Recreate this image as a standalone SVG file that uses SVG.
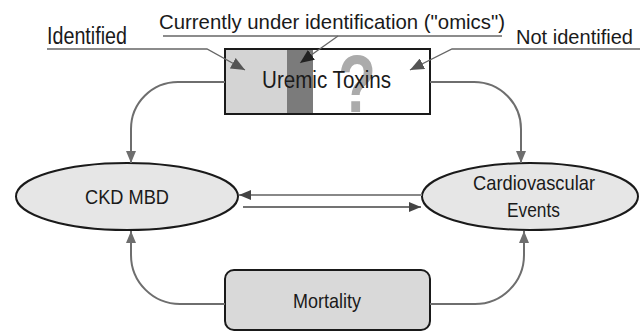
<svg xmlns="http://www.w3.org/2000/svg" width="640" height="333" viewBox="0 0 640 333">
<style>
text{font-family:"Liberation Sans Narrow","Liberation Sans",Arial,sans-serif;fill:#1a1a1a}
.lbl{font-size:23px}
.nd{font-size:21px}
.conn{fill:none;stroke:#6e6e6e;stroke-width:2}
.call{fill:none;stroke:#666;stroke-width:1.3}
.node{fill:#e6e6e6;stroke:#1a1a1a;stroke-width:2}
</style>
<defs>
<marker id="ah" viewBox="0 0 12 10" refX="12" refY="5" markerWidth="12" markerHeight="10" markerUnits="userSpaceOnUse" orient="auto">
<path d="M0,0 L12,5 L0,10 z" fill="#6e6e6e"/>
</marker>
<marker id="ahd" viewBox="0 0 12 10" refX="12" refY="5" markerWidth="12" markerHeight="10" markerUnits="userSpaceOnUse" orient="auto">
<path d="M0,0 L12,5 L0,10 z" fill="#444"/>
</marker>
<marker id="ahc" viewBox="0 0 14 12" refX="14" refY="6" markerWidth="14" markerHeight="12" markerUnits="userSpaceOnUse" orient="auto">
<path d="M0,0 L14,6 L0,12 z" fill="#555"/>
</marker>
<marker id="ahk" viewBox="0 0 14 12" refX="14" refY="6" markerWidth="14" markerHeight="12" markerUnits="userSpaceOnUse" orient="auto">
<path d="M0,0 L14,6 L0,12 z" fill="#222"/>
</marker>
</defs>
<rect width="640" height="333" fill="#fff"/>
<g id="uremic">
<rect x="225" y="49" width="205" height="65" fill="#fff"/>
<rect x="225" y="49" width="62" height="65" fill="#d4d4d4"/>
<rect x="287" y="49" width="26" height="65" fill="#7b7b7b"/>
<text x="338" y="112" style="font-size:81px;font-weight:bold;fill:#ababab;font-family:'Liberation Sans',Arial,sans-serif" textLength="38" lengthAdjust="spacingAndGlyphs">?</text>
<rect x="225" y="49" width="205" height="65" fill="none" stroke="#1a1a1a" stroke-width="2"/>
<text class="lbl" x="262" y="88" textLength="129" lengthAdjust="spacingAndGlyphs">Uremic Toxins</text>
</g>
<g id="labels">
<text class="lbl" x="47" y="44" textLength="80" lengthAdjust="spacingAndGlyphs">Identified</text>
<text x="159" y="29" style="font-size:20.3px" textLength="346" lengthAdjust="spacingAndGlyphs">Currently under identification ("omics")</text>
<text x="516" y="44" style="font-size:20px" textLength="117" lengthAdjust="spacingAndGlyphs">Not identified</text>
<path class="call" d="M47,49 H207 L245,70" marker-end="url(#ahc)"/>
<path class="call" d="M163,36 H502"/>
<path class="call" d="M338,36 L300,63" marker-end="url(#ahk)"/>
<path class="call" d="M640,49 H452 L410,70" marker-end="url(#ahc)"/>
</g>
<g id="ckd">
<ellipse class="node" cx="127" cy="196.5" rx="111" ry="33.5"/>
<text class="nd" x="127" y="204" text-anchor="middle" textLength="84" lengthAdjust="spacingAndGlyphs">CKD MBD</text>
</g>
<g id="cardio">
<ellipse class="node" cx="530" cy="196.5" rx="108" ry="33.5"/>
<text class="nd" x="534" y="190" text-anchor="middle" textLength="122" lengthAdjust="spacingAndGlyphs">Cardiovascular</text>
<text class="nd" x="533.5" y="217" text-anchor="middle" textLength="53" lengthAdjust="spacingAndGlyphs">Events</text>
</g>
<g id="mortality">
<rect class="node" x="225" y="270" width="205" height="60" rx="9" style="fill:#d9d9d9"/>
<text class="nd" x="327" y="308" text-anchor="middle" textLength="68" lengthAdjust="spacingAndGlyphs">Mortality</text>
</g>
<g id="connectors">
<path class="conn" d="M225,82 H178 A47,47 0 0 0 131,129 V163" marker-end="url(#ah)"/>
<path class="conn" d="M430,82 H474 A47,47 0 0 1 521,129 V163" marker-end="url(#ah)"/>
<path d="M422,195 H239" fill="none" stroke="#888" stroke-width="2.2" marker-end="url(#ahd)"/>
<path d="M243,207 H421" fill="none" stroke="#444" stroke-width="1.5" marker-end="url(#ahd)"/>
<path class="conn" d="M225,304 H180 A49,49 0 0 1 131,255 V231" marker-end="url(#ah)"/>
<path class="conn" d="M430,304 H475 A49,49 0 0 0 524,255 V231" marker-end="url(#ah)"/>
</g>
</svg>
